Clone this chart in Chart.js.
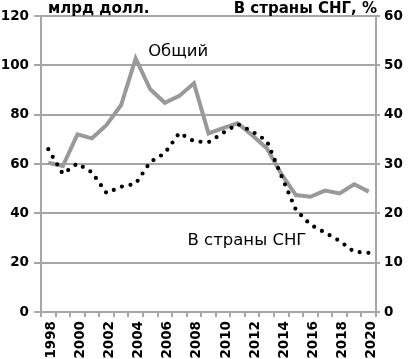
<!DOCTYPE html>
<html><head><meta charset="utf-8">
<script src="https://cdn.jsdelivr.net/npm/chart.js@4/dist/chart.umd.min.js"></script>
<style>html,body{margin:0;padding:0;background:#fff}#wrap{width:408px;height:359px}</style>
</head><body><div id="wrap"><canvas id="c" width="408" height="359"></canvas></div>
<script>
const years = ['1998','1999','2000','2001','2002','2003','2004','2005','2006','2007','2008','2009','2010','2011','2012','2013','2014','2015','2016','2017','2018','2019','2020'];
const totalValues = [60.5, 59.2, 72.0, 70.4, 75.8, 83.9, 102.8, 90.3, 84.8, 87.6, 92.7, 72.4, 74.5, 76.5, 71.7, 66.4, 56.0, 47.4, 46.7, 49.2, 48.1, 51.8, 48.8];
const cisShare = [33.0, 28.0, 30.1, 28.3, 24.1, 25.4, 26.0, 30.4, 32.2, 36.3, 34.6, 34.4, 36.3, 38.1, 36.6, 34.7, 27.6, 20.7, 17.7, 16.1, 14.4, 12.2, 12.0];
const leftTicks = [0, 20, 40, 60, 80, 100, 120];
const rightTicks = [0, 10, 20, 30, 40, 50, 60];
const leftTitle = 'млрд долл.';
const rightTitle = 'В страны СНГ, %';
const totalLabel = 'Общий';
const cisLabel = 'В страны СНГ';

const GRID = '#a6a6a6';
const FONT = 'DejaVu Sans';

const textPlugin = {
  id: 'texts',
  afterDatasetsDraw(chart) {
    const ctx = chart.ctx, a = chart.chartArea;
    const xs = chart.scales.x, ys = chart.scales.y;
    ctx.save();
    ctx.fillStyle = '#000';
    ctx.textBaseline = 'alphabetic';
    ctx.font = 'bold 15px "' + FONT + '"';
    ctx.textAlign = 'left';
    ctx.fillText(leftTitle, a.left + 7, a.top - 3);
    ctx.textAlign = 'right';
    ctx.fillText(rightTitle, a.right + 1, a.top - 3);
    ctx.font = '16.5px "' + FONT + '"';
    ctx.textAlign = 'center';
    ctx.textBaseline = 'middle';
    ctx.fillText(totalLabel, xs.getPixelForValue(8.92), ys.getPixelForValue(105.4));
    ctx.fillText(cisLabel, xs.getPixelForValue(13.64), ys.getPixelForValue(28.8));
    ctx.restore();
  }
};

new Chart(document.getElementById('c'), {
  type: 'line',
  data: {
    labels: years,
    datasets: [
      {
        label: cisLabel, data: cisShare, yAxisID: 'y1',
        borderColor: '#000', borderWidth: 4.2, borderDash: [0, 8.8], borderCapStyle: 'round',
        pointRadius: 0, tension: 0, fill: false, order: 0
      },
      {
        label: totalLabel, data: totalValues, yAxisID: 'y',
        borderColor: '#999999', borderWidth: 4, borderJoinStyle: 'miter',
        pointRadius: 0, tension: 0, fill: false, order: 1
      }
    ]
  },
  options: {
    responsive: false, animation: false, devicePixelRatio: 1,
    layout: { padding: { top: 16, left: 0, right: 0, bottom: 0 } },
    plugins: { legend: { display: false }, tooltip: { enabled: false } },
    scales: {
      x: {
        offset: true,
        grid: { offset: true, drawOnChartArea: false, drawTicks: true, tickLength: 5, color: GRID, lineWidth: 2 },
        border: { color: GRID, width: 2 },
        ticks: {
          autoSkip: false, maxRotation: 90, minRotation: 90, padding: 4, labelOffset: 3, color: '#000',
          font: { family: FONT, weight: 'bold', size: 13.5 },
          callback: function(v, i) { return (i % 2 === 0) ? years[i] : ''; }
        },
        afterFit(s) { s.height = 47; }
      },
      y: {
        position: 'left', min: 0, max: 120,
        afterBuildTicks(s) { s.ticks = leftTicks.map(v => ({ value: v })); },
        grid: { color: GRID, lineWidth: 2, tickLength: 7 },
        border: { color: GRID, width: 2 },
        ticks: { padding: 5, color: '#000', font: { family: FONT, weight: 'bold', size: 13.5 } },
        afterFit(s) { s.width = 41; }
      },
      y1: {
        position: 'right', min: 0, max: 60,
        afterBuildTicks(s) { s.ticks = rightTicks.map(v => ({ value: v })); },
        grid: { drawOnChartArea: false, color: GRID, lineWidth: 2, tickLength: 4 },
        border: { color: GRID, width: 2 },
        ticks: { padding: 4, color: '#000', font: { family: FONT, weight: 'bold', size: 13.5 } },
        afterFit(s) { s.width = 32; }
      }
    }
  },
  plugins: [textPlugin]
});
</script>
</body></html>
